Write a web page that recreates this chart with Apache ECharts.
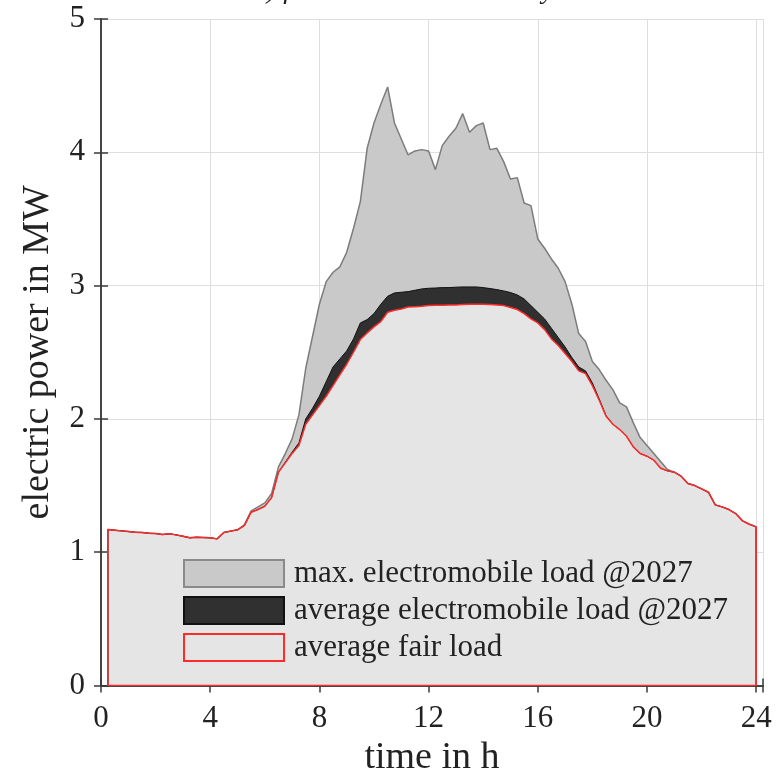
<!DOCTYPE html>
<html>
<head>
<meta charset="utf-8">
<title>fair load with electromobility</title>
<script src="https://cdn.jsdelivr.net/npm/echarts@6/dist/echarts.min.js"></script>
<style>
  html, body { margin: 0; padding: 0; background: #fff; }
  #chart { width: 784px; height: 773px; }
</style>
</head>
<body>
<div id="chart"></div>
<script>
// sample times in h (15 min steps)
var times = []
for (var i = 1; i <= 96; i++) times.push(i * 0.25)

// average fair load in MW
var fairLoad = [
  1.17, 1.165, 1.16, 1.155, 1.15, 1.148, 1.143, 1.14, 1.132, 1.138, 1.13, 1.12,
  1.108, 1.112, 1.11, 1.108, 1.10, 1.148, 1.158, 1.168, 1.20, 1.30, 1.32, 1.345,
  1.41, 1.60, 1.67, 1.74, 1.80, 1.96, 2.03, 2.10, 2.17, 2.25, 2.33, 2.41,
  2.50, 2.595, 2.645, 2.69, 2.73, 2.80, 2.815, 2.825, 2.84, 2.842, 2.845, 2.85,
  2.852, 2.852, 2.855, 2.855, 2.858, 2.86, 2.86, 2.86, 2.858, 2.855, 2.85, 2.835,
  2.82, 2.79, 2.75, 2.72, 2.67, 2.60, 2.55, 2.49, 2.43, 2.36, 2.34, 2.25,
  2.14, 2.02, 1.96, 1.92, 1.87, 1.79, 1.74, 1.72, 1.69, 1.63, 1.61, 1.60,
  1.57, 1.515, 1.50, 1.475, 1.45, 1.355, 1.34, 1.32, 1.29, 1.235, 1.21, 1.19
]

// fair load + average electromobile load @2027
var avgTotal = [
  1.17, 1.165, 1.16, 1.155, 1.15, 1.148, 1.143, 1.14, 1.132, 1.138, 1.13, 1.12,
  1.108, 1.112, 1.11, 1.108, 1.10, 1.148, 1.158, 1.168, 1.20, 1.30, 1.32, 1.345,
  1.41, 1.60, 1.675, 1.75, 1.82, 2.00, 2.08, 2.17, 2.28, 2.39, 2.45, 2.51,
  2.60, 2.72, 2.745, 2.79, 2.86, 2.92, 2.945, 2.95, 2.955, 2.965, 2.975, 2.98,
  2.982, 2.985, 2.985, 2.988, 2.99, 2.99, 2.99, 2.985, 2.978, 2.97, 2.96, 2.948,
  2.93, 2.90, 2.85, 2.80, 2.75, 2.68, 2.61, 2.54, 2.46, 2.39, 2.36, 2.27,
  2.15, 2.025, 1.96, 1.92, 1.87, 1.79, 1.74, 1.72, 1.69, 1.63, 1.61, 1.60,
  1.57, 1.515, 1.50, 1.475, 1.45, 1.355, 1.34, 1.32, 1.29, 1.235, 1.21, 1.19
]

// fair load + max. electromobile load @2027
var maxTotal = [
  1.17, 1.165, 1.16, 1.155, 1.15, 1.148, 1.143, 1.14, 1.132, 1.138, 1.13, 1.12,
  1.108, 1.112, 1.11, 1.108, 1.10, 1.148, 1.158, 1.168, 1.205, 1.31, 1.34, 1.37,
  1.44, 1.64, 1.74, 1.85, 2.03, 2.38, 2.62, 2.86, 3.03, 3.10, 3.14, 3.25,
  3.43, 3.63, 4.03, 4.22, 4.36, 4.49, 4.22, 4.10, 3.98, 4.01, 4.02, 4.01,
  3.87, 4.05, 4.12, 4.18, 4.29, 4.15, 4.20, 4.22, 4.02, 4.03, 3.93, 3.80,
  3.81, 3.62, 3.60, 3.35, 3.28, 3.20, 3.13, 3.03, 2.86, 2.64, 2.58, 2.43,
  2.37, 2.29, 2.22, 2.12, 2.09, 1.97, 1.86, 1.80, 1.74, 1.68, 1.62, 1.60,
  1.57, 1.515, 1.50, 1.475, 1.45, 1.355, 1.34, 1.32, 1.29, 1.235, 1.21, 1.19
]

var xTicks = [0, 4, 8, 12, 16, 20, 24]
var yTicks = [0, 1, 2, 3, 4, 5]

var seriesNames = [
  'max. electromobile load @2027',
  'average electromobile load @2027',
  'average fair load'
]

var serifFont = '"Liberation Serif", "DejaVu Serif", serif'
var frameColor = '#3a3a3a'

// closed outline: vertical edge up, curve, vertical edge down (and back along 0)
function toPairs(values, closeBottom) {
  var pts = [[times[0], 0]]
  for (var i = 0; i < values.length; i++) pts.push([times[i], values[i]])
  pts.push([times[times.length - 1], 0])
  if (closeBottom) pts.push([times[0], 0])
  return pts
}

function tickFormatter(ticks) {
  return function(v) {
    return ticks.indexOf(v) >= 0 ? String(v) : ''
  }
}

var chart = echarts.init(document.getElementById('chart'), null, { renderer: 'canvas' })

chart.setOption({
  animation: false,
  backgroundColor: '#fff',
  grid: { left: 101, top: 19, width: 662, height: 666.5, outerBoundsMode: 'none', containLabel: false },
  graphic: [
    {
      // title, cut off at the top edge like the original
      type: 'text',
      z: 10,
      style: {
        x: 432, y: 5,
        text: 'b) fair with electromobility load',
        align: 'center', verticalAlign: 'bottom',
        font: 'italic 28px ' + serifFont,
        fill: '#222'
      }
    },
    {
      // legend box
      type: 'rect',
      z: 3,
      shape: { x: 165, y: 547, width: 569, height: 123 },
      style: { fill: '#fff', stroke: frameColor, lineWidth: 1.5 }
    }
  ],
  legend: {
    orient: 'vertical',
    left: 183, top: 558,
    padding: 0,
    itemWidth: 100, itemHeight: 27, itemGap: 6,
    textStyle: {
      fontFamily: serifFont, fontSize: 31, color: '#222',
      lineHeight: 27, padding: [0, 0, 0, 5]
    },
    selectedMode: false,
    data: [
      { name: seriesNames[0], icon: 'rect', itemStyle: { color: '#c9c9c9', borderColor: '#8a8a8a', borderWidth: 2 } },
      { name: seriesNames[1], icon: 'rect', itemStyle: { color: '#303030', borderColor: '#111', borderWidth: 2 } },
      { name: seriesNames[2], icon: 'rect', itemStyle: { color: '#e5e5e5', borderColor: '#ff2a2a', borderWidth: 2 } }
    ]
  },
  xAxis: [
    {
      type: 'value', min: 0, max: 24.25, interval: 4,
      name: 'time in h', nameLocation: 'middle', nameGap: 52,
      nameTextStyle: { fontFamily: serifFont, fontSize: 38, color: '#222' },
      axisLine: { show: true, lineStyle: { color: frameColor, width: 1.5 } },
      axisTick: { inside: true, length: 7, lineStyle: { color: frameColor, width: 1.5 } },
      axisLabel: { fontFamily: serifFont, fontSize: 31, color: '#222', margin: 18, formatter: tickFormatter(xTicks) },
      splitLine: { show: true, lineStyle: { color: '#dedede', width: 1 } }
    },
    {
      type: 'value', position: 'top', min: 0, max: 24.25, interval: 4,
      axisLine: { show: true, lineStyle: { color: frameColor, width: 1.5 } },
      axisTick: { inside: true, length: 7, lineStyle: { color: frameColor, width: 1.5 } },
      axisLabel: { show: false },
      splitLine: { show: false }
    }
  ],
  yAxis: [
    {
      type: 'value', min: 0, max: 5, interval: 1,
      name: 'electric power in MW', nameLocation: 'middle', nameGap: 44,
      nameTextStyle: { fontFamily: serifFont, fontSize: 38, color: '#222' },
      axisLine: { show: true, lineStyle: { color: frameColor, width: 1.5 } },
      axisTick: { inside: true, length: 7, lineStyle: { color: frameColor, width: 1.5 } },
      axisLabel: { fontFamily: serifFont, fontSize: 31, color: '#222', margin: 16, formatter: tickFormatter(yTicks) },
      splitLine: { show: true, lineStyle: { color: '#dedede', width: 1 } }
    },
    {
      type: 'value', position: 'right', min: 0, max: 5, interval: 1,
      axisLine: { show: true, lineStyle: { color: frameColor, width: 1.5 } },
      axisTick: { inside: true, length: 7, lineStyle: { color: frameColor, width: 1.5 } },
      axisLabel: { show: false },
      splitLine: { show: false }
    }
  ],
  series: [
    {
      name: seriesNames[0],
      type: 'line',
      symbol: 'none',
      data: toPairs(maxTotal, false),
      lineStyle: { color: '#7c7c7c', width: 1.5 },
      itemStyle: { color: '#c9c9c9' },
      areaStyle: { color: '#c9c9c9', opacity: 1 }
    },
    {
      name: seriesNames[1],
      type: 'line',
      symbol: 'none',
      data: toPairs(avgTotal, false),
      lineStyle: { color: '#111', width: 1 },
      itemStyle: { color: '#303030' },
      areaStyle: { color: '#303030', opacity: 1 }
    },
    {
      name: seriesNames[2],
      type: 'line',
      symbol: 'none',
      data: toPairs(fairLoad, true),
      lineStyle: { color: '#ff2a2a', width: 1.5 },
      itemStyle: { color: '#e5e5e5' },
      areaStyle: { color: '#e5e5e5', opacity: 1 }
    }
  ]
})
</script>
</body>
</html>
